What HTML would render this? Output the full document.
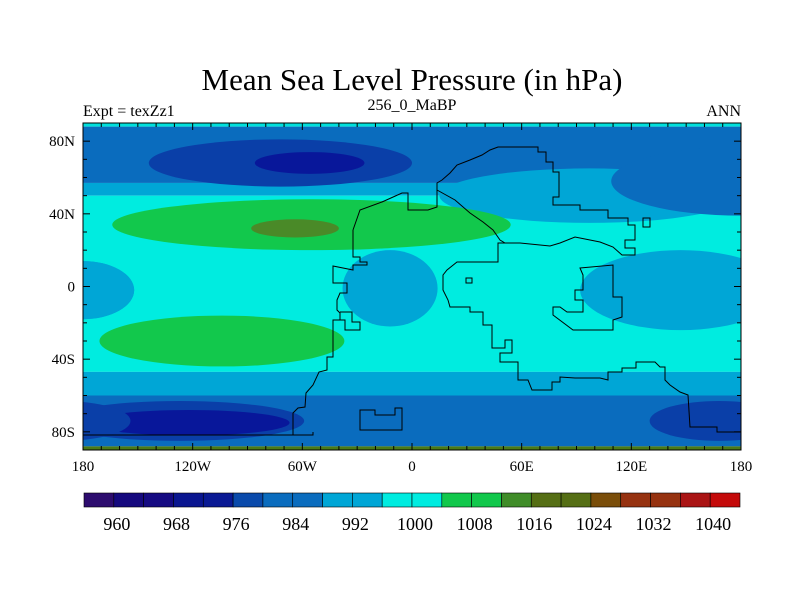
<!DOCTYPE html>
<html><head><meta charset="utf-8"><style>
body{margin:0;background:#fff;width:800px;height:600px;overflow:hidden}
svg text{font-family:"Liberation Serif",serif;fill:#000}
</style></head><body>
<svg id="chart" width="800" height="600" viewBox="0 0 800 600" xmlns="http://www.w3.org/2000/svg">
<text x="412" y="90" font-size="31" text-anchor="middle">Mean Sea Level Pressure (in hPa)</text>
<text x="83" y="116" font-size="16">Expt = texZz1</text>
<text x="412" y="110" font-size="16" text-anchor="middle">256_0_MaBP</text>
<text x="741" y="116" font-size="16" text-anchor="end">ANN</text>
<defs><clipPath id="pc"><rect x="83" y="123" width="658" height="327"/></clipPath></defs>
<g id="map" clip-path="url(#pc)"></g>
<g clip-path="url(#pc)" fill="none" stroke="#000" stroke-width="1">
<path d="M353,230 L360,210 L382,202 L402,193 L408,193 L408,210 L428,210 L437,207 L437,183 L442,180 L450,173 L457,165 L470,160 L482,155 L490,150 L498,147 L538,147 L538,152 L546,152 L546,162 L553,162 L553,172 L559,172 L559,197 L553,197 L553,205 L580,205 L580,210 L608,210 L608,218 L628,218 L628,225 L635,225 L635,240 L625,240 L625,248 L635,248 L635,255 L622,255 L613,247 L600,242 L590,240 L575,237 L560,243 L550,246 L520,243 L505,243 L498,243 L498,262 L457,262 L447,270 L443,275 L443,290 L448,300 L450,307 L470,307 L470,312 L483,312 L483,325 L492,325 L492,348 L505,348 L505,340 L512,340 L512,353 L500,353 L500,362 L518,362 L518,380 L528,380 L532,390 L552,390 L552,382 L560,382 L560,377 L575,378 L600,378 L608,380 L608,372 L622,372 L622,368 L636,368 L636,362 L655,362 L660,367 L665,367 L665,380 L670,385 L680,392 L688,395 L690,427 L717,427 L717,432 L745,432"/>
<path d="M437,190 L455,200 L470,213 L483,222 L493,230 L500,240 L505,243"/>
<path d="M353,230 L353,257 L360,257 L360,262 L367,262 L367,265 L353,265 L353,270 L333,266 L333,283 L347,283 L347,293 L340,293 L337,300 L337,310 L340,313 L340,320 L333,320 L333,338 L333,357 L327,357 L327,370 L319,372 L313,385 L306,393 L305,407 L298,408 L293,413 L293,435 L313,435 L313,432"/>
<path d="M293,435 L78,435"/>
<path d="M333,320 L345,320 L345,330 L360,330 L360,322 L352,322 L352,312 L340,312"/>
<path d="M580,268 L613,265 L613,297 L622,297 L622,317 L613,320 L613,330 L573,330 L553,315 L553,307 L560,307 L567,312 L583,312 L583,300 L575,300 L575,290 L583,290 L583,275 Z"/>
<path d="M360,410 L375,410 L375,415 L395,415 L395,408 L402,408 L402,430 L360,430 Z"/>
<path d="M466,278 L472,278 L472,283 L466,283 Z"/>
<path d="M643,218 L650,218 L650,227 L643,227 Z"/>
</g>
<rect x="83" y="123" width="658" height="327" fill="none" stroke="#000" stroke-width="1"/>
<g id="axes"></g>
<g id="cbar"></g>
</svg>
<script>
const levels=[960,964,968,972,976,980,984,988,992,996,1000,1004,1008,1012,1016,1020,1024,1028,1032,1036,1040];
const colors=["#2d0c6e","#15097e","#150a82","#0a1690","#0a1a94","#0a4aab","#0a6cbe","#0a6cbe","#00a6d6","#00a6d6","#00ece0","#00ece0","#12c84c","#12c84c","#3f8c28","#556e14","#556e14","#7a4e0a","#963210","#963210","#aa1414","#c40a0a"];
const labelLevels=[960,968,976,984,992,1000,1008,1016,1024,1032,1040];
const lonTicks=[-180,-120,-60,0,60,120,180];
const lonLabels=["180","120W","60W","0","60E","120E","180"];
const latTicks=[80,40,0,-40,-80];
const latLabels=["80N","40N","0","40S","80S"];
const lonMinor=[-170,-160,-150,-140,-130,-110,-100,-90,-80,-70,-50,-40,-30,-20,-10,10,20,30,40,50,70,80,90,100,110,130,140,150,160,170];
const latMinor=[70,60,50,30,20,10,-10,-20,-30,-50,-60,-70];
// contour bands: [latTop, latBottom, colour]
const bandTop=[90,88,57,50,-47,-60,-88];
const bandBot=[88,57,50,-47,-60,-88,-90];
const bandCol=["#00e0dc","#0a6cbe","#00a6d6","#00ece0","#00a6d6","#0a6cbe","#4a7a18"];
// blobs: lon, lat, rxDeg, ryDeg, colour
const blobLon=[97,180,-180,-72,-56,-55,-64,-104,-180,147,-12,-127,-122,168,-192];
const blobLat=[50,58,-2,68,68,34,32,-30,-2,-2,-1,-74,-75,-74,-74];
const blobRx=[82,71,28,72,30,109,24,67,28,55,26,68,55,38,38];
const blobRy=[15,19,16,13,6,14,5,14,16,22,21,11,7,11,11];
const blobCol=["#00a6d6","#0a6cbe","#00a6d6","#0a3fa8","#08179a","#12c84c","#4a8a28","#12c84c","#00a6d6","#00a6d6","#00a6d6","#0a3fa8","#08179a","#0a3fa8","#0a3fa8"];

const NS="http://www.w3.org/2000/svg";
const X=lon=>83+(lon+180)*658/360;
const Y=lat=>286.5-lat*327/180;
function mk(tag,attrs,parent){const e=document.createElementNS(NS,tag);for(const k in attrs)e.setAttribute(k,attrs[k]);parent.appendChild(e);return e;}
const map=document.getElementById('map');
bandTop.forEach((t,i)=>{
  const r=mk('rect',{x:83,y:Y(t),width:658,height:Y(bandBot[i])-Y(t),fill:bandCol[i]},map);
  
  
});
blobLon.forEach((l,i)=>{
  const e=mk('ellipse',{cx:X(l),cy:Y(blobLat[i]),rx:blobRx[i]*658/360,ry:blobRy[i]*327/180,fill:blobCol[i]},map);
  
  
});
const ax=document.getElementById('axes');
lonMinor.forEach(l=>{
  mk('line',{x1:X(l),y1:450,x2:X(l),y2:446,stroke:'#000'},ax);
  mk('line',{x1:X(l),y1:123,x2:X(l),y2:127,stroke:'#000'},ax);
});
latMinor.forEach(l=>{
  mk('line',{x1:83,y1:Y(l),x2:87,y2:Y(l),stroke:'#000'},ax);
  mk('line',{x1:741,y1:Y(l),x2:737,y2:Y(l),stroke:'#000'},ax);
});
lonTicks.forEach((l,i)=>{
  mk('line',{x1:X(l),y1:450,x2:X(l),y2:443,stroke:'#000'},ax);
  mk('line',{x1:X(l),y1:123,x2:X(l),y2:130,stroke:'#000'},ax);
  const t=mk('text',{x:X(l),y:471,'font-size':15,'text-anchor':'middle'},ax);
  t.textContent=lonLabels[i];
  
  
});
latTicks.forEach((l,i)=>{
  mk('line',{x1:83,y1:Y(l),x2:90,y2:Y(l),stroke:'#000'},ax);
  mk('line',{x1:741,y1:Y(l),x2:734,y2:Y(l),stroke:'#000'},ax);
  const t=mk('text',{x:75,y:Y(l)+5,'font-size':15,'text-anchor':'end'},ax);
  t.textContent=latLabels[i];
  
  
});
const cb=document.getElementById('cbar');
const cbX0=84,cbW=656,cbY=493,cbH=14,bw=cbW/colors.length;
colors.forEach((c,i)=>{
  const r=mk('rect',{x:cbX0+i*bw,y:cbY,width:bw,height:cbH,fill:c,stroke:'#000','stroke-width':0.6},cb);
  
  
});
labelLevels.forEach(v=>{
  const idx=levels.indexOf(v)+1;
  const t=mk('text',{x:cbX0+idx*bw+3,y:530,'font-size':18,'text-anchor':'middle'},cb);
  t.textContent=v;
  
  
});
</script>
</body></html>
